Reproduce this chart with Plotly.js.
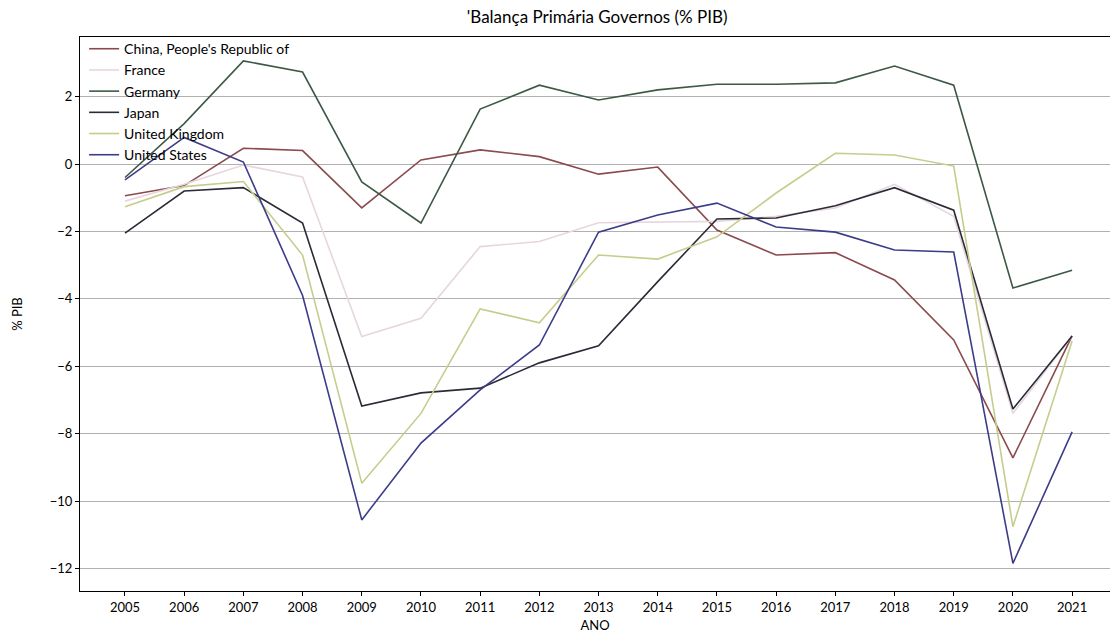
<!DOCTYPE html>
<html>
<head>
<meta charset="utf-8">
<script src="https://cdn.plot.ly/plotly-3.0.1.min.js"></script>
<style>
  html, body { margin: 0; padding: 0; background: #ffffff; }
  #chart { width: 1110px; height: 634px; }
</style>
</head>
<body>
<div id="chart"></div>
<script>
const years = [2005, 2006, 2007, 2008, 2009, 2010, 2011, 2012, 2013, 2014, 2015, 2016, 2017, 2018, 2019, 2020, 2021];
const yTicks = [-12, -10, -8, -6, -4, -2, 0, 2];

const china   = [-0.94, -0.64, 0.47, 0.40, -1.30, 0.12, 0.42, 0.22, -0.30, -0.09, -1.96, -2.70, -2.63, -3.44, -5.22, -8.72, -5.10];
const france  = [-1.10, -0.60, -0.03, -0.38, -5.12, -4.58, -2.45, -2.30, -1.74, -1.71, -1.70, -1.55, -1.30, -0.60, -1.55, -7.40, -5.10];
const germany = [-0.40, 1.20, 3.06, 2.73, -0.53, -1.75, 1.63, 2.34, 1.90, 2.20, 2.37, 2.37, 2.41, 2.91, 2.34, -3.68, -3.15];
const japan   = [-2.05, -0.80, -0.70, -1.75, -7.18, -6.79, -6.65, -5.90, -5.39, -3.49, -1.63, -1.60, -1.24, -0.70, -1.37, -7.27, -5.10];
const uk      = [-1.27, -0.67, -0.52, -2.70, -9.47, -7.40, -4.30, -4.71, -2.70, -2.82, -2.16, -0.86, 0.32, 0.27, -0.06, -10.76, -5.25];
const us      = [-0.47, 0.79, 0.06, -3.90, -10.56, -8.28, -6.70, -5.37, -2.02, -1.51, -1.16, -1.87, -2.02, -2.55, -2.61, -11.85, -7.95];

const seriesNames = ["China, People's Republic of", "France", "Germany", "Japan", "United Kingdom", "United States"];
const seriesData = [china, france, germany, japan, uk, us];
const seriesColors = ["#8a4a4e", "#e6d6de", "#3d5945", "#2b2b38", "#c6cd8c", "#3c3c88"];

const traces = seriesNames.map((name, i) => ({
  type: 'scatter',
  mode: 'lines',
  name: name,
  x: years,
  y: seriesData[i],
  line: { color: seriesColors[i], width: 1.6 }
}));

const FONT = 'Lato, DejaVu Sans, sans-serif';

const layout = {
  width: 1110,
  height: 634,
  margin: { l: 80, r: 0, t: 37, b: 43 },
  paper_bgcolor: '#ffffff',
  plot_bgcolor: '#ffffff',
  font: { family: FONT, size: 13, color: '#000000' },
  title: {
    text: "'Balança Primária Governos (% PIB)",
    font: { family: FONT, size: 17, color: '#000000' },
    x: 0.538, xanchor: 'center', y: 0.973, yanchor: 'middle'
  },
  showlegend: true,
  legend: {
    x: 0.004, y: 1.007, xanchor: 'left', yanchor: 'top',
    bgcolor: 'rgba(255,255,255,0)',
    font: { family: FONT, size: 14, color: '#000000' },
    itemwidth: 30,
    tracegroupgap: 0
  },
  xaxis: {
    range: [2004.24, 2021.64],
    tickmode: 'array',
    tickvals: years,
    ticktext: years.map(String),
    ticks: 'outside', ticklen: 4, tickcolor: '#000000',
    showgrid: false,
    zeroline: false,
    showline: true, linecolor: '#000000', linewidth: 1, mirror: true,
    title: { text: 'ANO', font: { family: FONT, size: 13 }, standoff: 7 },
    tickfont: { family: FONT, size: 13 }
  },
  yaxis: {
    range: [-12.67, 3.77],
    tickmode: 'array',
    tickvals: yTicks,
    ticktext: yTicks.map(v => v < 0 ? '\u2212' + Math.abs(v) : String(v)),
    ticks: 'outside', ticklen: 4, tickcolor: '#000000',
    showgrid: true, gridcolor: '#b0b0b0', gridwidth: 1,
    zeroline: false,
    showline: true, linecolor: '#000000', linewidth: 1, mirror: true,
    title: { text: '% PIB', font: { family: FONT, size: 13 }, standoff: 24 },
    tickfont: { family: FONT, size: 13 }
  }
};

Plotly.newPlot('chart', traces, layout, { displayModeBar: false, staticPlot: true });
</script>
</body>
</html>
